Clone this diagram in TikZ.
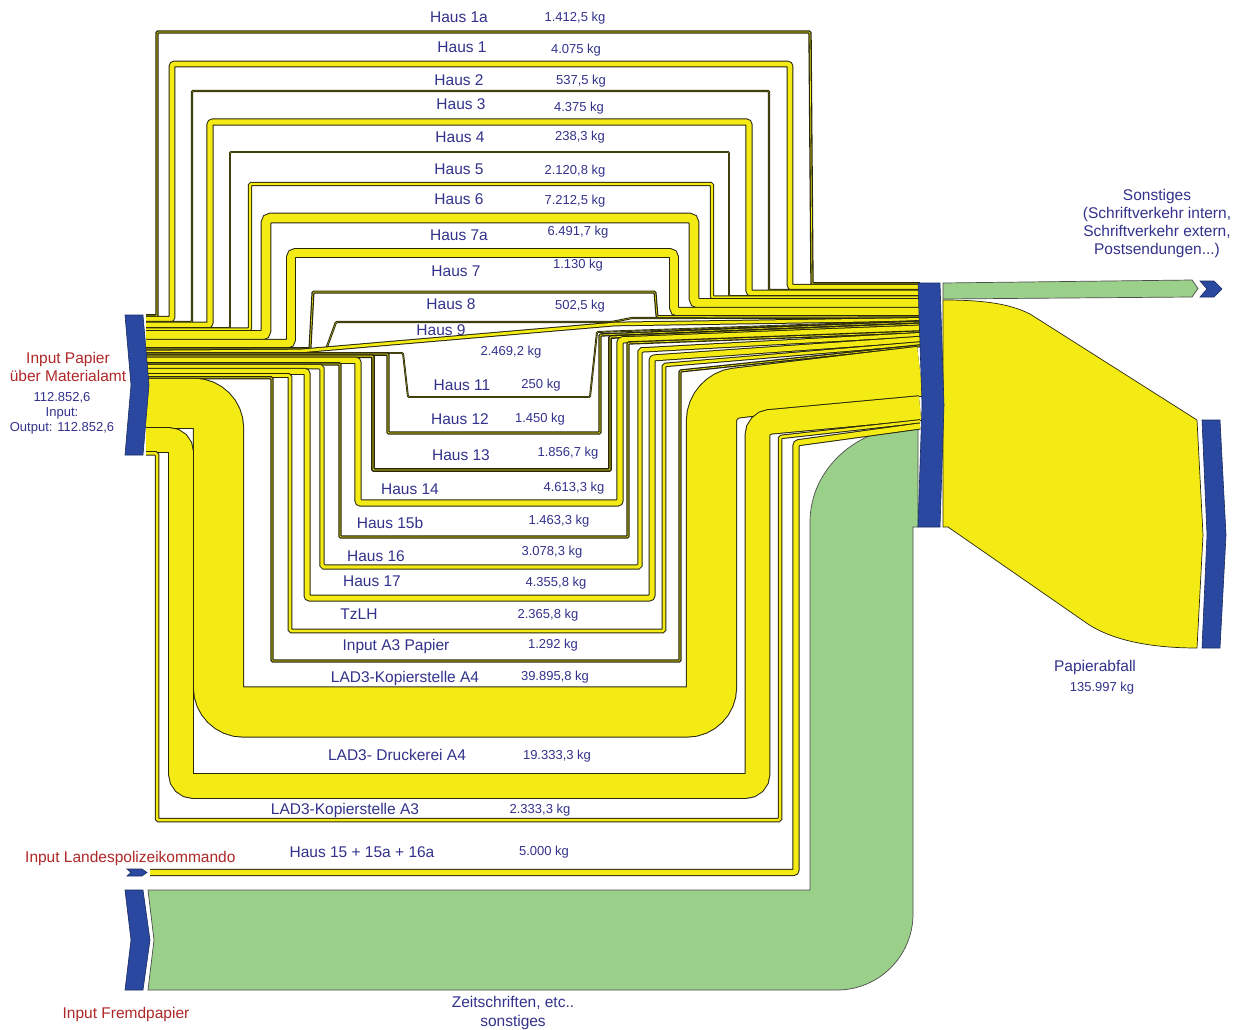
\documentclass[tikz,border=0pt]{standalone}
\usepackage{fontspec}
\setmainfont{Liberation Sans}
\definecolor{fy}{RGB}{245,235,20}
\definecolor{fg}{RGB}{155,208,138}
\definecolor{nb}{RGB}{42,72,160}
\definecolor{tb}{RGB}{50,50,140}
\definecolor{tr}{RGB}{175,40,40}
\definecolor{ol}{RGB}{40,40,15}
\newcommand\fl[3]{%
 \pgfmathsetmacro\ow{#1+1.6}%
 \pgfmathsetmacro\iw{#1<2.5 ? 0.4*#1 : #1-0.4}%
 \draw[draw=ol,line width=\ow pt,rounded corners=#2pt] #3;
 \draw[draw=fy,line width=\iw pt,rounded corners=#2pt] #3;}
\begin{document}
\begin{tikzpicture}[x=1pt,y=-1pt,
 nm/.style={text=tb,font=\fontsize{15.5}{17}\selectfont,inner sep=0pt},
 vl/.style={text=tb,font=\fontsize{13}{15}\selectfont,inner sep=0pt},
 rd/.style={text=tr,font=\fontsize{15.5}{17}\selectfont,inner sep=0pt},
 blk/.style={fill=nb,draw=nb!60!black,line width=0.6pt},
 edgeline/.style={draw=ol,line width=0.7pt}]
\useasboundingbox (0,0) rectangle (1234,1030);
\fill[white] (0,0) rectangle (1234,1030);

% green Fremdpapier band
\path[fill=fg,draw=black!70,line width=0.7pt] (148,890) -- (810,890) -- (810,522) .. controls (810,469) and (857,427) .. (912,427) -- (918,427) -- (918,527) -- (913,527) -- (913,914) .. controls (913,956) and (879,990) .. (837,990) -- (148,990) -- (154,940) -- cycle;
% Papierabfall
\path[fill=fy,edgeline] (943,300) .. controls (985,300) and (1010,304) .. (1030,314) -- (1197,420) -- (1203,535) -- (1197,648) .. controls (1150,648) and (1110,640) .. (1085,622) -- (948,527) -- (943,527) -- cycle;
% Sonstiges band
\path[fill=fg,draw=black!70,line width=0.7pt] (943,283) -- (1192,280) -- (1198,288.5) -- (1192,297) -- (943,299) -- cycle;

% upper loops
\fl{1.75}{1}{(146,315.9) -- (157,315.9) -- (157,32) -- (810,32) -- (812,283.9) -- (920,283.9)}
\fl{5.05}{2.5}{(146,319.3) -- (172,319.3) -- (172,64) -- (790,64) -- (790,287.3) -- (920,287.3)}
\fl{0.67}{1}{(146,322.1) -- (192,322.1) -- (192,91) -- (769,91) -- (769,290.1) -- (920,290.1)}
\fl{5.43}{2.7}{(146,325.2) -- (210,325.2) -- (210,122) -- (749,122) -- (749,293.2) -- (920,293.2)}
\fl{0.3}{1}{(146,328) -- (230,328) -- (230,152) -- (729,152) -- (729,296) -- (920,296)}
\fl{2.63}{1.3}{(146,329.5) -- (250,329.5) -- (250,184) -- (712,184) -- (712,297.5) -- (920,297.5)}
\fl{8.94}{4.5}{(146,335.3) -- (266,335.3) -- (266,218) -- (694,218) -- (694,303.3) -- (920,303.3)}
\fl{8.05}{4}{(146,343.8) -- (291,343.8) -- (291,253) -- (674,253) -- (674,311.8) -- (920,311.8)}
\fl{1.4}{1}{(146,348.5) -- (310,348.5) -- (313,292) -- (655,292) -- (657,316.5) -- (920,316.5)}
\fl{0.62}{1}{(146,349.5) -- (326,349.5) -- (336,322) -- (612,322) -- (632,318) -- (920,317.5)}
\fl{3.06}{1}{(146,352) -- (300,351) -- (615,324) -- (920,319.4)}

% lower loops
\fl{0.31}{1}{(146,353) -- (403,353) -- (408,397) -- (590,397) -- (597,332) -- (920,321)}
\fl{1.8}{1}{(146,354.1) -- (388,354.1) -- (388,433) -- (600,433) -- (600,335) -- (920,322.1)}
\fl{2.3}{1}{(146,356.2) -- (373,356.2) -- (373,470) -- (610,470) -- (610,337) -- (920,324.2)}
\fl{5.72}{2.8}{(146,360.2) -- (358,360.2) -- (358,503) -- (620,503) -- (620,340) -- (920,328.2)}
\fl{1.81}{1}{(146,363.9) -- (340,363.9) -- (340,537) -- (628,537) -- (628,343) -- (920,331.9)}
\fl{3.82}{1.9}{(146,366.7) -- (322,366.7) -- (322,567) -- (640,567) -- (640,350) -- (920,334.7)}
\fl{5.4}{2.7}{(146,371.3) -- (307,371.3) -- (307,598) -- (652,598) -- (652,358) -- (920,339.3)}
\fl{2.93}{1.4}{(146,375.5) -- (290,375.5) -- (290,631) -- (664,631) -- (664,365) -- (920,343.5)}
\fl{1.6}{1}{(146,377.8) -- (272,377.8) -- (272,661) -- (680,661) -- (680,371) -- (920,345.8)}
\fl{49.5}{24.7}{(146,403.3) -- (218.5,403.3) -- (218.5,712) -- (711.5,712) -- (711.5,396) -- (920,371.3)}
\fl{24}{12}{(146,440) -- (181,440) -- (181,786) -- (757.5,786) -- (757.5,423) -- (920,408)}
\fl{2.9}{1.4}{(146,453.4) -- (157,453.4) -- (157,820) -- (780,820) -- (780,437) -- (920,421.4)}
\fl{5.5}{2.7}{(150,872.5) -- (796,872.5) -- (796,443) -- (920,426)}

% blue nodes
\path[blk] (125,315) -- (143,315) -- (149,385) -- (143,455) -- (125,455) -- (131,385) -- cycle;
\path[blk] (918,283) -- (940,283) -- (944,405) -- (940,527) -- (918,527) -- (922,405) -- cycle;
\path[blk] (1202,420) -- (1220,420) -- (1226,535) -- (1220,648) -- (1202,648) -- (1207,535) -- cycle;
\path[blk] (125,890) -- (143,890) -- (150,940) -- (143,990) -- (125,990) -- (131,940) -- cycle;
\path[blk] (127,869) -- (142,869) -- (147,872.5) -- (142,876) -- (127,876) -- (131,872.5) -- cycle;
\path[blk] (1200,281) -- (1214,281) -- (1222,289) -- (1214,297) -- (1200,297) -- (1207,289) -- cycle;

% labels
\node[nm] (l1a) at (459,17) {Haus 1a};      \node[vl] (v1a) at (575,18) {1.412,5 kg};
\node[nm] (l1) at (462,47) {Haus 1};        \node[vl] (v1) at (576,50) {4.075 kg};
\node[nm] (l2) at (459,80) {Haus 2};        \node[vl] (v2) at (581,81) {537,5 kg};
\node[nm] (l3) at (461,104) {Haus 3};       \node[vl] (v3) at (579,108) {4.375 kg};
\node[nm] (l4) at (460,137) {Haus 4};       \node[vl] (v4) at (580,137) {238,3 kg};
\node[nm] (l5) at (459,169) {Haus 5};       \node[vl] (v5) at (575,171) {2.120,8 kg};
\node[nm] (l6) at (459,199) {Haus 6};       \node[vl] (v6) at (575,201) {7.212,5 kg};
\node[nm] (l7a) at (459,235) {Haus 7a};     \node[vl] (v7a) at (578,232) {6.491,7 kg};
\node[nm] (l7) at (456,271) {Haus 7};       \node[vl] (v7) at (578,265) {1.130 kg};
\node[nm] (l8) at (451,304) {Haus 8};       \node[vl] (v8) at (580,306) {502,5 kg};
\node[nm] (l9) at (441,330.5) {Haus 9};     \node[vl] (v9) at (511,352) {2.469,2 kg};
\node[nm] (l11) at (462,385) {Haus 11};     \node[vl] (v11) at (541,385) {250 kg};
\node[nm] (l12) at (460,419) {Haus 12};     \node[vl] (v12) at (540,419) {1.450 kg};
\node[nm] (l13) at (461,455) {Haus 13};     \node[vl] (v13) at (568,453) {1.856,7 kg};
\node[nm] (l14) at (410,489) {Haus 14};     \node[vl] (v14) at (574,488) {4.613,3 kg};
\node[nm] (l15b) at (390,523) {Haus 15b};   \node[vl] (v15b) at (559,521) {1.463,3 kg};
\node[nm] (l16) at (376,556) {Haus 16};     \node[vl] (v16) at (552,552) {3.078,3 kg};
\node[nm] (l17) at (372,581) {Haus 17};     \node[vl] (v17) at (556,583) {4.355,8 kg};
\node[nm] (ltz) at (359,614) {TzLH};        \node[vl] (vtz) at (548,615) {2.365,8 kg};
\node[nm] (la3) at (396,646) {Input A3 Papier}; \node[vl] (va3) at (553,645) {1.292 kg};
\node[nm] (lk4) at (405,678) {LAD3-Kopierstelle A4}; \node[vl] (vk4) at (555,677) {39.895,8 kg};
\node[nm] (ld4) at (397,755) {LAD3- Druckerei A4};   \node[vl] (vd4) at (557,756) {19.333,3 kg};
\node[nm] (lk3) at (345,810) {LAD3-Kopierstelle A3}; \node[vl] (vk3) at (540,810) {2.333,3 kg};
\node[nm] (l15) at (362,852) {Haus 15 + 15a + 16a};  \node[vl] (v15) at (544,852) {5.000 kg};

\node[rd,align=center,font=\fontsize{15.5}{18}\selectfont] (inp) at (68,367) {Input Papier\\über Materialamt};
\node[vl,align=center,font=\fontsize{13}{15}\selectfont] (inpv) at (62,413) {112.852,6\\Input:\\Output: 112.852,6};
\node[rd,anchor=west] (lpk) at (25,858) {Input Landespolizeikommando};
\node[rd] (frp) at (126,1014) {Input Fremdpapier};
\node[nm,align=center,font=\fontsize{15.5}{19}\selectfont] (zs) at (513,1013) {Zeitschriften, etc..\\sonstiges};
\node[nm,align=center,font=\fontsize{15.5}{18.3}\selectfont] (son) at (1157,223.5) {Sonstiges\\(Schriftverkehr intern,\\Schriftverkehr extern,\\Postsendungen...)};
\node[nm] (pab) at (1095,667) {Papierabfall};
\node[vl] (pabv) at (1102,688) {135.997 kg};
\end{tikzpicture}
\end{document}
